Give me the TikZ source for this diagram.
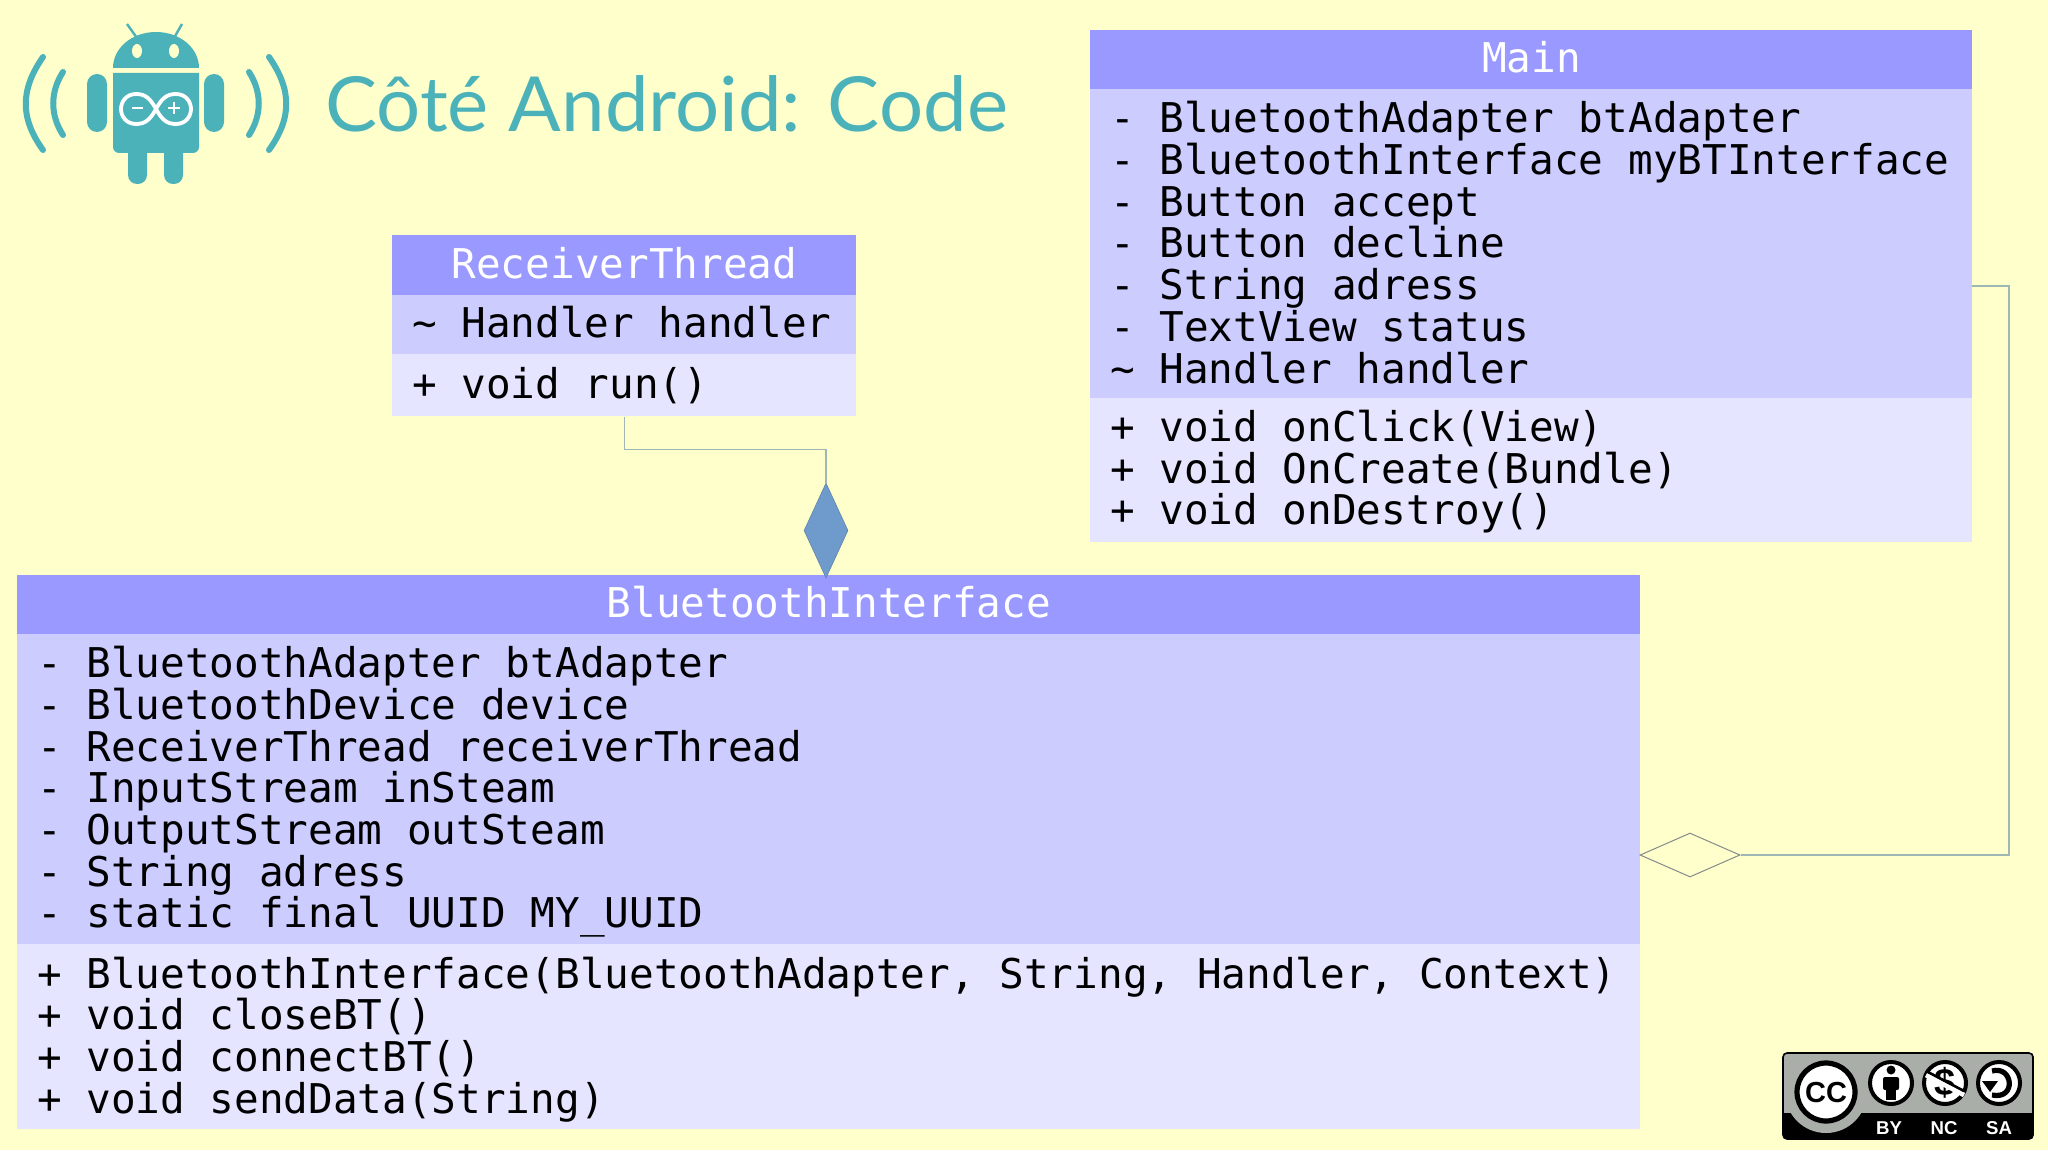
\documentclass[tikz,border=0pt]{standalone}
\usepackage{fontspec}
\setmainfont{Liberation Sans}
\newfontfamily\umlfont{DejaVu Sans Mono}
\newfontfamily\titlefont[FakeStretch=1.025]{Lato}
\usetikzlibrary{shapes.geometric}
\definecolor{pagebg}{HTML}{FFFFCC}
\definecolor{headblue}{HTML}{9999FF}
\definecolor{attrblue}{HTML}{CCCCFF}
\definecolor{methblue}{HTML}{E5E5FF}
\definecolor{logoteal}{HTML}{4CB2BA}
\definecolor{wireteal}{HTML}{9DB8B4}
\definecolor{compblue}{HTML}{6F9BCC}
\definecolor{ccgray}{HTML}{A9AEA9}
\tikzset{
    umlbox/.style={shape=rectangle, anchor=north west, inner ysep=0pt, inner xsep=9.8pt, align=flush left,
        font=\umlfont\fontsize{20.5}{20.85}\selectfont},
    headbox/.style={umlbox, fill=headblue, text=white, align=center, raisetext=2.6pt},
    attrbox/.style={umlbox, fill=attrblue},
    methbox/.style={umlbox, fill=methblue},
    raisetext/.style={execute at end node={\par\vspace{#1}}},
    wire/.style={draw=wireteal, line width=0.6pt},
    compdiamond/.style={shape=diamond, draw=compblue!85!black, fill=compblue, line width=0.3pt, inner sep=0pt,
        minimum width=22pt, minimum height=47.5pt, aspect=0.46},
    aggdiamond/.style={shape=diamond, draw=gray!80!wireteal, fill=pagebg, line width=0.5pt, inner sep=0pt,
        minimum width=50pt, minimum height=22pt, aspect=2.27},
    badgetext/.style={text=white, inner sep=0pt, font=\fontsize{9.3}{10}\selectfont\bfseries}
}
\begin{document}
\begin{tikzpicture}[x=0.5pt,y=-0.5pt]
    \useasboundingbox (0,0) rectangle (2048,1150);
    \fill[pagebg] (0,0) rectangle (2048,1150);

    \node[inner sep=0pt, text=logoteal, anchor=base west,
        font=\titlefont\fontsize{38}{40}\selectfont] (title) at (325,132) {Côté Android: Code};

    \fill[logoteal] (113,68) .. controls (113,48) and (132,32) .. (156,32) .. controls (180,32) and (199,48) .. (199,68) -- cycle;
    \draw[logoteal, line width=1.2pt] (127,24) -- (137,38);
    \draw[logoteal, line width=1.2pt] (182,24) -- (174,38);
    \fill[pagebg] (137,51) ellipse[x radius=5, y radius=7];
    \fill[pagebg] (174,51) ellipse[x radius=5, y radius=7];
    \fill[logoteal, rounded corners=5pt] (87,74) rectangle (107,132);
    \fill[logoteal, rounded corners=5pt] (204,74) rectangle (224,132);
    \fill[logoteal, rounded corners=4.5pt] (128,140) rectangle (147,184);
    \fill[logoteal, rounded corners=4.5pt] (164,140) rectangle (183,184);
    \fill[logoteal] (113,73) -- (199,73) [rounded corners=3pt] -- (199,153) -- (113,153) [sharp corners] -- cycle;
    \draw[white, line width=1.9pt] (156,109) .. controls (150,98) and (145,94) .. (136,94) .. controls (126,94) and (121,102) .. (121,109)
        .. controls (121,116) and (126,124) .. (136,124) .. controls (145,124) and (150,120) .. (156,109)
        .. controls (162,98) and (167,94) .. (176,94) .. controls (186,94) and (191,102) .. (191,109)
        .. controls (191,116) and (186,124) .. (176,124) .. controls (167,124) and (162,120) .. (156,109);
    \draw[white, line width=1pt] (132,108) -- (143,108);
    \draw[white, line width=1pt] (168,108) -- (180,108) (174,102) -- (174,114);
    \draw[logoteal, line width=3pt, line cap=round] (43,57) .. controls (20,90) and (20,118) .. (43,150);
    \draw[logoteal, line width=3pt, line cap=round] (63,72) .. controls (50,92) and (50,115) .. (63,135);
    \draw[logoteal, line width=3pt, line cap=round] (269,57) .. controls (292,90) and (292,118) .. (269,150);
    \draw[logoteal, line width=3pt, line cap=round] (249,72) .. controls (262,92) and (262,115) .. (249,135);

    \node[headbox, text width=212.4pt, minimum height=30pt] (recvHead) at (392,235) {ReceiverThread};
    \node[attrbox, raisetext=2.6pt, text width=212.4pt, minimum height=29.5pt] (recvAttr) at (392,295) {\textasciitilde{} Handler handler};
    \node[methbox, text width=212.4pt, minimum height=31pt] (recvMeth) at (392,354) {+ void run()};

    \node[headbox, text width=421.4pt, minimum height=29.5pt] (mainHead) at (1090,30) {Main};
    \node[attrbox, raisetext=1.3pt, text width=421.4pt, minimum height=154.5pt] (mainAttr) at (1090,89) {- BluetoothAdapter btAdapter\\
        - BluetoothInterface myBTInterface\\
        - Button accept\\
        - Button decline\\
        - String adress\\
        - TextView status\\
        \textasciitilde{} Handler handler};
    \node[methbox, raisetext=-1.3pt, text width=421.4pt, minimum height=72pt] (mainMeth) at (1090,398) {+ void onClick(View)\\
        + void OnCreate(Bundle)\\
        + void onDestroy()};

    \node[headbox, text width=791.9pt, minimum height=29.5pt] (btHead) at (17,575) {BluetoothInterface};
    \node[attrbox, raisetext=-2.6pt, text width=791.9pt, minimum height=155pt] (btAttr) at (17,634) {- BluetoothAdapter btAdapter\\
        - BluetoothDevice device\\
        - ReceiverThread receiverThread\\
        - InputStream inSteam\\
        - OutputStream outSteam\\
        - String adress\\
        - static final UUID MY\_UUID};
    \node[methbox, raisetext=-2.6pt, text width=791.9pt, minimum height=92.5pt] (btMeth) at (17,944) {+ BluetoothInterface(BluetoothAdapter, String, Handler, Context)\\
        + void closeBT()\\
        + void connectBT()\\
        + void sendData(String)};

    \node[compdiamond] (compRecv) at (826,530.5) {};
    \node[aggdiamond] (aggMain) at (1690,855) {};
    \coordinate (mainEast) at (1972,286);

    \draw[wire] (recvMeth.south) -- ++(0,33) -| (compRecv.north);
    \draw[wire] (mainEast) -- ++(37,0) |- (aggMain.east);

    \begin{scope}
        \clip[rounded corners=2pt] (1783,1053) rectangle (2033,1139);
        \fill[ccgray] (1783,1053) rectangle (2033,1139);
        \fill[black] (1783,1113) rectangle (2033,1139);
        \fill[ccgray] (1826,1092) circle[radius=41];
    \end{scope}
    \draw[black, line width=0.8pt, rounded corners=2pt] (1783,1053) rectangle (2033,1139);
    \draw[black, fill=white, line width=2.6pt] (1826,1092) circle[radius=29];
    \node[inner sep=0pt, font=\fontsize{14.5}{15}\selectfont\bfseries] (ccMark) at (1826,1093) {CC};
    \draw[black, fill=white, line width=2pt] (1891,1083) circle[radius=21];
    \draw[black, fill=white, line width=2pt] (1945,1083) circle[radius=21];
    \draw[black, fill=white, line width=2pt] (1999,1083) circle[radius=21];
    \fill[black] (1891,1070) circle[radius=4.5];
    \fill[black, rounded corners=1pt] (1883,1077) rectangle (1899,1090);
    \fill[black] (1886,1085) rectangle (1896,1100);
    \node[inner sep=0pt, font=\fontsize{19}{20}\selectfont\bfseries] (ncMark) at (1945,1083) {\$};
    \draw[white, line width=2.4pt] (1926,1075) -- (1964,1095);
    \draw[black, line width=1.3pt] (1926,1071) -- (1964,1091);
    \draw[black, line width=2.6pt] (1992,1071) .. controls (2013,1065) and (2017,1100) .. (1992,1095);
    \fill[black] (1982,1081) -- (1998,1081) -- (1990,1092) -- cycle;
    \node[badgetext] (byLabel) at (1889,1128) {BY};
    \node[badgetext] (ncLabel) at (1944,1128) {NC};
    \node[badgetext] (saLabel) at (1999,1128) {SA};
\end{tikzpicture}
\end{document}
